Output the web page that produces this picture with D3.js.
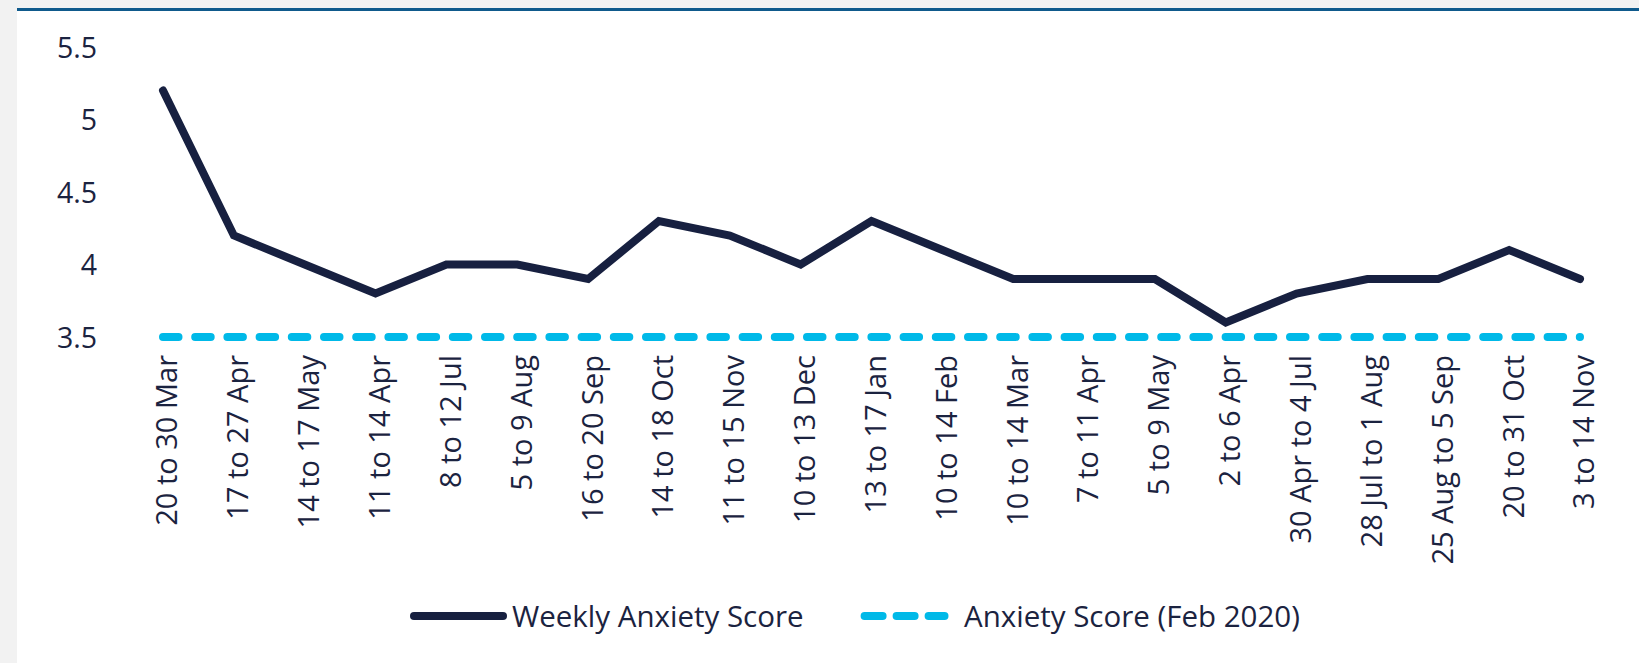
<!DOCTYPE html>
<html>
<head>
<meta charset="utf-8">
<script src="https://cdn.jsdelivr.net/npm/d3@7"></script>
<style>
  html, body { margin: 0; padding: 0; background: #f2f2f2; }
  svg { display: block; }
  text { font-family: "Open Sans", "Noto Sans", sans-serif; fill: #1b2340; }
</style>
</head>
<body>
<svg id="chart" width="1639" height="663"></svg>
<script>
const categories = ["20 to 30 Mar","17 to 27 Apr","14 to 17 May","11 to 14 Apr","8 to 12 Jul","5 to 9 Aug","16 to 20 Sep","14 to 18 Oct","11 to 15 Nov","10 to 13 Dec","13 to 17 Jan","10 to 14 Feb","10 to 14 Mar","7 to 11 Apr","5 to 9 May","2 to 6 Apr","30 Apr to 4 Jul","28 Jul to 1 Aug","25 Aug to 5 Sep","20 to 31 Oct","3 to 14 Nov"];
const weeklyAnxiety = [5.2,4.2,4.0,3.8,4.0,4.0,3.9,4.3,4.2,4.0,4.3,4.1,3.9,3.9,3.9,3.6,3.8,3.9,3.9,4.1,3.9];
const baselineAnxiety = categories.map(() => 3.5);
const yTicks = [3.5, 4, 4.5, 5, 5.5];
const seriesNames = ["Weekly Anxiety Score", "Anxiety Score (Feb 2020)"];

const svg = d3.select("#chart");
const W = 1639, H = 663;

// panel
svg.append("rect").attr("x", 17).attr("y", 8).attr("width", W - 17).attr("height", H - 8).attr("fill", "#ffffff");
svg.append("rect").attr("x", 17).attr("y", 8).attr("width", W - 17).attr("height", 3).attr("fill", "#0f5a8c");

const x = d3.scalePoint().domain(categories).range([163, 1580]);
const y = d3.scaleLinear().domain([3.5, 5.5]).range([337, 47]);

// y axis labels
const yAxis = d3.axisLeft(y).tickValues(yTicks).tickSize(0).tickPadding(0)
  .tickFormat(d => d3.format("")(d));
const gy = svg.append("g").attr("transform", "translate(97,0)").call(yAxis);
gy.select(".domain").remove();
gy.selectAll("text").attr("font-size", 28.5).attr("fill", "#1b2340")
  .attr("font-family", "'Open Sans', sans-serif").attr("dy", "0.36em").attr("x", 0);

// x axis labels
const xAxis = d3.axisBottom(x).tickSize(0).tickPadding(0);
const gx = svg.append("g").attr("transform", "translate(0,355)").call(xAxis);
gx.select(".domain").remove();
gx.selectAll("text")
  .attr("font-size", 29).attr("fill", "#1b2340")
  .attr("font-family", "'Open Sans', sans-serif")
  .attr("text-anchor", "end")
  .attr("transform", "rotate(-90)")
  .attr("x", 0).attr("y", 0).attr("dy", "0.48em");

// baseline dashed
const line = d3.line().x((d, i) => x(categories[i])).y(d => y(d));
svg.append("path").datum(baselineAnxiety)
  .attr("d", line).attr("fill", "none")
  .attr("stroke", "#00b9e8").attr("stroke-width", 8)
  .attr("stroke-linecap", "round")
  .attr("stroke-dasharray", "15.5 16.7");

// weekly line
svg.append("path").datum(weeklyAnxiety)
  .attr("d", line).attr("fill", "none")
  .attr("stroke", "#172040").attr("stroke-width", 8)
  .attr("stroke-linecap", "round").attr("stroke-linejoin", "miter");

// legend
const lg = svg.append("g");
lg.append("line").attr("x1", 414).attr("x2", 503).attr("y1", 616).attr("y2", 616)
  .attr("stroke", "#172040").attr("stroke-width", 8).attr("stroke-linecap", "round");
lg.append("text").attr("x", 512).attr("y", 627).attr("font-size", 29.5)
  .text(seriesNames[0]);
lg.append("line").attr("x1", 864.6).attr("x2", 944.5).attr("y1", 616).attr("y2", 616)
  .attr("stroke", "#00b9e8").attr("stroke-width", 8).attr("stroke-linecap", "round")
  .attr("stroke-dasharray", "18 14");
lg.append("text").attr("x", 964).attr("y", 627).attr("font-size", 29.5)
  .text(seriesNames[1]);
</script>
</body>
</html>
